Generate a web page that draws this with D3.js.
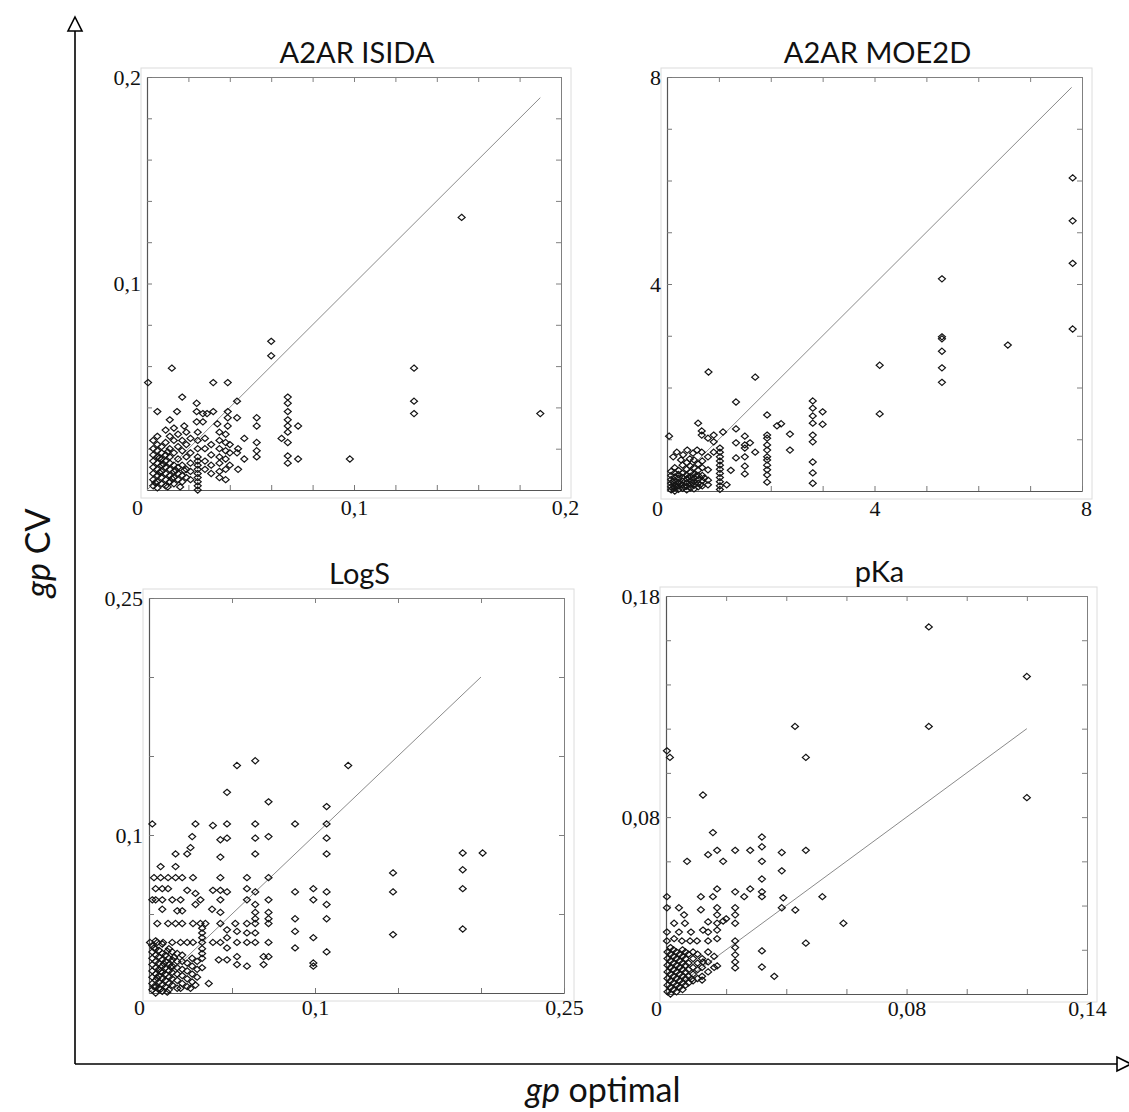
<!DOCTYPE html>
<html><head><meta charset="utf-8">
<script src="https://cdn.jsdelivr.net/npm/d3@7"></script>
<style>body{margin:0;background:#fff}svg{display:block;background:#fff}</style>
</head><body>
<svg id="chart" width="1129" height="1112"></svg>
<script>
// ---------------- DATA ----------------
const panelTitles = ["A2AR ISIDA", "A2AR MOE2D", "LogS", "pKa"];
const xAxisLabel = ["gp", " optimal"];
const yAxisLabel = ["gp", " CV"];

const isidaPoints = [
 [0.152,0.132],[0.19,0.037],[0.129,0.059],[0.129,0.043],[0.129,0.037],[0.098,0.015],[0.060,0.072],[0.060,0.065],
 [0.0005,0.052],[0.012,0.059],[0.032,0.052],[0.039,0.052],[0.017,0.045],[0.005,0.038],[0.0145,0.038],[0.024,0.042],
 [0.024,0.038],[0.027,0.037],[0.029,0.037],[0.032,0.038],[0.039,0.038],[0.0435,0.043],[0.011,0.034],[0.018,0.031],
 [0.024,0.033],[0.027,0.033],[0.034,0.032],[0.039,0.035],[0.039,0.031],[0.0435,0.035],[0.053,0.035],[0.053,0.031],
 [0.068,0.045],[0.068,0.042],[0.068,0.038],[0.068,0.034],[0.068,0.031],[0.068,0.028],[0.068,0.023],[0.068,0.0165],[0.068,0.013],
 [0.073,0.031],[0.073,0.015],[0.065,0.025],[0.053,0.023],[0.053,0.019],[0.053,0.016],[0.047,0.025],[0.047,0.015],[0.0435,0.018],
 [0.003,0.002],[0.003,0.005],[0.003,0.008],[0.003,0.011],[0.003,0.014],[0.003,0.017],[0.003,0.020],[0.003,0.024],
 [0.005,0.001],[0.005,0.004],[0.005,0.007],[0.005,0.010],[0.005,0.013],[0.005,0.016],[0.005,0.019],[0.005,0.022],[0.005,0.026],
 [0.007,0.003],[0.007,0.006],[0.007,0.009],[0.007,0.012],[0.007,0.015],[0.007,0.018],[0.007,0.021],
 [0.009,0.002],[0.009,0.005],[0.009,0.008],[0.009,0.011],[0.009,0.014],[0.009,0.017],[0.009,0.023],[0.009,0.029],
 [0.011,0.004],[0.011,0.007],[0.011,0.010],[0.011,0.013],[0.011,0.016],[0.011,0.020],[0.011,0.026],
 [0.013,0.003],[0.013,0.006],[0.013,0.009],[0.013,0.012],[0.013,0.018],[0.013,0.024],[0.013,0.030],
 [0.015,0.005],[0.015,0.008],[0.015,0.011],[0.015,0.015],[0.015,0.021],[0.015,0.027],
 [0.017,0.004],[0.017,0.007],[0.017,0.012],[0.017,0.019],[0.017,0.024],
 [0.019,0.006],[0.019,0.010],[0.019,0.016],[0.019,0.022],[0.019,0.028],
 [0.021,0.005],[0.021,0.009],[0.021,0.013],[0.021,0.018],[0.021,0.025],
 [0.0245,0.000],[0.0245,0.002],[0.0245,0.004],[0.0245,0.006],[0.0245,0.008],[0.0245,0.010],[0.0245,0.012],[0.0245,0.014],[0.0245,0.016],[0.0245,0.020],[0.0245,0.024],[0.0245,0.028],
 [0.028,0.010],[0.028,0.014],[0.028,0.020],[0.028,0.025],
 [0.031,0.008],[0.031,0.012],[0.031,0.017],[0.031,0.022],
 [0.035,0.006],[0.035,0.009],[0.035,0.013],[0.035,0.016],[0.035,0.020],[0.035,0.024],[0.035,0.028],
 [0.038,0.005],[0.038,0.010],[0.038,0.015],[0.038,0.019],[0.038,0.023],[0.038,0.027],
 [0.040,0.012],[0.040,0.018],[0.040,0.022],[0.044,0.010],[0.044,0.020],
 [0.004,0.0035],[0.006,0.0085],[0.008,0.0125],[0.010,0.0015],[0.012,0.0055],[0.014,0.0095],[0.016,0.0015],[0.018,0.0095],[0.010,0.0185],[0.006,0.0155]
];

const moePoints = [
 [7.82,6.05],[7.82,5.22],[7.82,4.4],[7.82,3.13],[5.3,4.1],[5.3,2.98],[5.3,2.94],[5.3,2.7],[5.3,2.38],[5.3,2.1],
 [6.57,2.82],[4.1,2.43],[4.1,1.49],
 [0.8,2.3],[1.7,2.2],[1.33,1.72],[0.6,1.31],[0.67,1.16],[0.67,1.08],[0.04,1.06],[1.93,1.47],[2.12,1.26],[2.2,1.3],[2.37,1.1],[2.37,0.79],
 [2.81,1.74],[2.81,1.6],[2.81,1.45],[2.81,1.31],[2.81,1.08],[2.81,0.95],[2.81,0.56],[2.81,0.35],[2.81,0.15],
 [3.0,1.53],[3.0,1.29],
 [1.93,1.08],[1.93,1.02],[1.93,0.89],[1.93,0.79],[1.93,0.66],[1.93,0.6],[1.93,0.5],[1.93,0.41],[1.93,0.31],[1.93,0.17],
 [1.33,1.2],[1.5,1.06],[1.5,0.89],[1.5,0.83],[1.5,0.66],[1.5,0.48],[1.5,0.33],[1.6,0.93],[1.7,0.75],[1.33,0.93],[1.33,0.64],[1.23,0.4],[1.08,1.14],
 [1.02,0.83],[1.02,0.75],[1.02,0.66],[1.02,0.58],[1.02,0.5],[1.02,0.42],[1.02,0.34],[1.02,0.26],[1.02,0.18],[1.02,0.1],[1.02,0.03],
 [1.15,0.12],[0.9,1.08],[0.9,0.95],[0.79,1.02],[0.79,0.66],[0.79,0.41],[0.79,0.21],[0.79,0.12],[0.9,0.75],[0.58,0.79],[0.39,0.79],[0.19,0.75],[0.12,0.66],
 [0.31,0.7],[0.5,0.73],[0.67,0.75],[0.27,0.6],[0.44,0.62],
 [0.08,0.02],[0.08,0.08],[0.08,0.15],[0.08,0.22],[0.08,0.3],[0.08,0.38],
 [0.15,0.0],[0.15,0.06],[0.15,0.12],[0.15,0.2],[0.15,0.27],[0.15,0.35],[0.15,0.45],
 [0.22,0.03],[0.22,0.1],[0.22,0.17],[0.22,0.25],[0.22,0.32],[0.22,0.4],
 [0.3,0.05],[0.3,0.12],[0.3,0.19],[0.3,0.26],[0.3,0.34],[0.3,0.5],
 [0.38,0.02],[0.38,0.09],[0.38,0.16],[0.38,0.23],[0.38,0.31],[0.38,0.42],[0.38,0.55],
 [0.45,0.06],[0.45,0.13],[0.45,0.2],[0.45,0.28],[0.45,0.36],[0.45,0.48],
 [0.52,0.04],[0.52,0.11],[0.52,0.18],[0.52,0.25],[0.52,0.33],[0.52,0.45],[0.52,0.6],
 [0.6,0.08],[0.6,0.15],[0.6,0.22],[0.6,0.3],[0.6,0.4],[0.6,0.52],
 [0.68,0.1],[0.68,0.2],[0.68,0.3],[0.68,0.45],[0.68,0.58],
 [0.11,0.05],[0.11,0.18],[0.19,0.09],[0.26,0.14],[0.34,0.08],[0.41,0.26],[0.49,0.16],[0.56,0.29],[0.64,0.12],[0.72,0.25]
];

const logsPoints = [
 [0.053,0.144],[0.064,0.147],[0.12,0.144],[0.047,0.127],[0.072,0.121],[0.107,0.118],
 [0.002,0.107],[0.028,0.107],[0.0385,0.106],[0.047,0.107],[0.064,0.107],[0.088,0.107],[0.107,0.107],
 [0.026,0.099],[0.043,0.097],[0.047,0.098],[0.064,0.098],[0.072,0.099],[0.107,0.098],
 [0.016,0.088],[0.023,0.088],[0.025,0.092],[0.043,0.086],[0.064,0.088],[0.107,0.088],
 [0.147,0.076],[0.147,0.064],[0.147,0.037],
 [0.189,0.0886],[0.189,0.078],[0.189,0.066],[0.189,0.0405],[0.201,0.0886],
 [0.007,0.08],[0.016,0.08],
 [0.003,0.073],[0.007,0.073],[0.0115,0.073],[0.016,0.073],[0.02,0.073],[0.0265,0.073],[0.043,0.073],[0.059,0.073],[0.072,0.073],
 [0.004,0.066],[0.008,0.066],[0.0115,0.066],[0.023,0.065],[0.028,0.063],[0.0385,0.065],[0.043,0.065],[0.047,0.064],[0.059,0.066],[0.064,0.064],[0.088,0.064],[0.099,0.066],[0.107,0.064],
 [0.002,0.059],[0.004,0.059],[0.008,0.059],[0.014,0.059],[0.019,0.059],[0.031,0.059],[0.043,0.059],[0.059,0.059],[0.072,0.059],[0.099,0.059],
 [0.028,0.056],[0.008,0.053],[0.017,0.052],[0.02,0.052],[0.038,0.053],[0.043,0.051],
 [0.064,0.056],[0.064,0.051],[0.064,0.047],[0.072,0.051],[0.072,0.047],[0.107,0.056],[0.107,0.047],[0.088,0.047],
 [0.005,0.044],[0.0115,0.044],[0.016,0.044],[0.02,0.044],[0.0265,0.044],[0.031,0.044],[0.034,0.044],[0.043,0.044],[0.052,0.044],[0.059,0.044],[0.064,0.044],[0.072,0.044],
 [0.053,0.039],[0.059,0.038],[0.064,0.038],[0.088,0.039],[0.099,0.035],
 [0.0006,0.032],[0.005,0.032],[0.0085,0.032],[0.014,0.032],[0.019,0.032],[0.023,0.032],[0.0265,0.032],[0.032,0.032],[0.0385,0.032],[0.043,0.032],[0.053,0.032],[0.059,0.032],[0.064,0.032],[0.072,0.032],
 [0.047,0.0285],[0.069,0.023],[0.072,0.023],[0.088,0.0285],[0.107,0.026],[0.053,0.023],[0.053,0.018],[0.059,0.017],[0.069,0.018],[0.099,0.019],[0.099,0.017],
 [0.032,0.022],[0.032,0.016],[0.042,0.021],[0.047,0.021],[0.036,0.006],[0.019,0.003],[0.025,0.003],[0.028,0.005],
 [0.032,0.025],[0.032,0.028],[0.032,0.035],[0.032,0.038],[0.032,0.041],[0.047,0.035],[0.047,0.04],
 [0.002,0.002],[0.002,0.006],[0.002,0.010],[0.002,0.014],[0.002,0.018],[0.002,0.022],[0.002,0.026],[0.002,0.030],
 [0.004,0.000],[0.004,0.004],[0.004,0.008],[0.004,0.012],[0.004,0.016],[0.004,0.020],[0.004,0.024],[0.004,0.028],[0.004,0.033],
 [0.006,0.003],[0.006,0.007],[0.006,0.011],[0.006,0.015],[0.006,0.019],[0.006,0.023],[0.006,0.027],
 [0.008,0.001],[0.008,0.005],[0.008,0.009],[0.008,0.013],[0.008,0.017],[0.008,0.021],[0.008,0.025],[0.008,0.031],
 [0.010,0.004],[0.010,0.008],[0.010,0.012],[0.010,0.016],[0.010,0.020],[0.010,0.024],
 [0.012,0.002],[0.012,0.006],[0.012,0.010],[0.012,0.014],[0.012,0.018],[0.012,0.022],[0.012,0.028],
 [0.014,0.005],[0.014,0.009],[0.014,0.013],[0.014,0.017],[0.014,0.021],[0.014,0.026],
 [0.017,0.003],[0.017,0.008],[0.017,0.012],[0.017,0.016],[0.017,0.020],[0.017,0.025],
 [0.020,0.006],[0.020,0.011],[0.020,0.015],[0.020,0.020],[0.020,0.024],
 [0.023,0.004],[0.023,0.009],[0.023,0.014],[0.023,0.019],
 [0.026,0.007],[0.026,0.012],[0.026,0.017],[0.026,0.022],
 [0.029,0.010],[0.029,0.015],[0.029,0.020],
 [0.003,0.004],[0.005,0.0095],[0.007,0.0135],[0.009,0.0185],[0.011,0.0005],[0.013,0.0165],[0.015,0.0225],[0.007,0.0025],[0.011,0.0265],[0.003,0.0285]
];

const pkaPoints = [
 [0.0874,0.166],[0.0874,0.121],[0.12,0.1436],[0.12,0.0888],[0.0429,0.121],[0.0465,0.107],[0.0003,0.11],[0.0013,0.107],
 [0.0123,0.09],[0.0156,0.073],[0.0319,0.071],[0.0319,0.0666],[0.014,0.063],[0.017,0.065],[0.023,0.065],[0.028,0.065],
 [0.0319,0.06],[0.0385,0.064],[0.0465,0.065],[0.007,0.06],[0.019,0.06],[0.0385,0.0557],[0.0319,0.052],
 [0.0003,0.044],[0.0116,0.044],[0.0156,0.044],[0.017,0.0475],[0.023,0.0462],[0.028,0.0475],[0.026,0.044],[0.0319,0.0462],[0.0319,0.044],[0.039,0.0435],[0.052,0.044],
 [0.0003,0.039],[0.0043,0.039],[0.006,0.0358],[0.0116,0.0381],[0.017,0.039],[0.017,0.0358],[0.023,0.039],[0.023,0.0358],[0.0385,0.039],[0.043,0.038],[0.059,0.032],
 [0.0027,0.032],[0.0063,0.032],[0.014,0.0326],[0.017,0.032],[0.019,0.033],[0.020,0.034],[0.023,0.032],
 [0.0003,0.028],[0.0043,0.028],[0.0083,0.028],[0.0123,0.0289],[0.014,0.028],[0.017,0.0289],
 [0.0003,0.024],[0.0027,0.025],[0.0053,0.024],[0.008,0.024],[0.0103,0.024],[0.014,0.024],[0.017,0.025],[0.023,0.024],
 [0.0465,0.023],[0.0319,0.0195],[0.023,0.021],[0.023,0.0177],[0.023,0.0145],[0.023,0.0118],[0.017,0.0127],[0.0319,0.0122],
 [0.036,0.008],[0.0123,0.0145],[0.014,0.0145],[0.012,0.0063],[0.0086,0.0068],
 [0.0005,0.001],[0.0005,0.004],[0.0005,0.007],[0.0005,0.010],[0.0005,0.013],[0.0005,0.016],[0.0005,0.019],
 [0.0015,0.000],[0.0015,0.003],[0.0015,0.006],[0.0015,0.009],[0.0015,0.012],[0.0015,0.015],[0.0015,0.018],[0.0015,0.021],
 [0.0025,0.002],[0.0025,0.005],[0.0025,0.008],[0.0025,0.011],[0.0025,0.014],[0.0025,0.017],[0.0025,0.020],
 [0.0035,0.001],[0.0035,0.004],[0.0035,0.007],[0.0035,0.010],[0.0035,0.013],[0.0035,0.016],[0.0035,0.019],
 [0.0045,0.003],[0.0045,0.006],[0.0045,0.009],[0.0045,0.012],[0.0045,0.015],[0.0045,0.018],
 [0.0055,0.002],[0.0055,0.005],[0.0055,0.008],[0.0055,0.011],[0.0055,0.014],[0.0055,0.017],[0.0055,0.020],
 [0.0065,0.004],[0.0065,0.007],[0.0065,0.010],[0.0065,0.013],[0.0065,0.016],[0.0065,0.019],
 [0.0075,0.005],[0.0075,0.008],[0.0075,0.011],[0.0075,0.014],[0.0075,0.018],
 [0.009,0.006],[0.009,0.009],[0.009,0.012],[0.009,0.016],[0.009,0.019],
 [0.0105,0.007],[0.0105,0.011],[0.0105,0.014],[0.0105,0.018],
 [0.012,0.008],[0.012,0.012],[0.012,0.016],[0.014,0.010],[0.014,0.019],[0.016,0.012],[0.016,0.017]
];

// axis maxima, diagonal extent
const xMaxima = [0.2, 8, 0.25, 0.14];
const yMaxima = [0.2, 8, 0.25, 0.18];
const diagonalEnds = [0.19, 7.8, 0.2, 0.12];

// tick values
const isidaTicks = [0,0.02,0.04,0.06,0.08,0.1,0.12,0.14,0.16,0.18,0.2];
const moeTicks = [0,1,2,3,4,5,6,7,8];
const logsTicks = [0,0.05,0.1,0.15,0.2,0.25];
const pkaXTicks = [0,0.02,0.04,0.06,0.08,0.1,0.12,0.14];
const pkaYTicks = [0,0.02,0.04,0.06,0.08,0.1,0.12,0.14,0.16,0.18];

// tick labels
const isidaXLabelVals = [0,0.1,0.2], isidaXLabels = ["0","0,1","0,2"];
const isidaYLabelVals = [0.1,0.2],   isidaYLabels = ["0,1","0,2"];
const moeXLabelVals = [0,4,8],       moeXLabels = ["0","4","8"];
const moeYLabelVals = [4,8],         moeYLabels = ["4","8"];
const logsXLabelVals = [0,0.1,0.25], logsXLabels = ["0","0,1","0,25"];
const logsYLabelVals = [0.1,0.25],   logsYLabels = ["0,1","0,25"];
const pkaXLabelVals = [0,0.08,0.14], pkaXLabels = ["0","0,08","0,14"];
const pkaYLabelVals = [0.08,0.18],   pkaYLabels = ["0,08","0,18"];

// ---------------- LAYOUT ----------------
const boxes = [
  {x0:147, x1:561, yb:490, yt:77},
  {x0:667, x1:1082, yb:491, yt:77},
  {x0:149, x1:564, yb:993, yt:598},
  {x0:666, x1:1087, yb:994, yt:596}
];

const panels = [
  {title:panelTitles[0], pts:isidaPoints, xT:isidaTicks, yT:isidaTicks, xLV:isidaXLabelVals, xL:isidaXLabels, yLV:isidaYLabelVals, yL:isidaYLabels},
  {title:panelTitles[1], pts:moePoints, xT:moeTicks, yT:moeTicks, xLV:moeXLabelVals, xL:moeXLabels, yLV:moeYLabelVals, yL:moeYLabels},
  {title:panelTitles[2], pts:logsPoints, xT:logsTicks, yT:logsTicks, xLV:logsXLabelVals, xL:logsXLabels, yLV:logsYLabelVals, yL:logsYLabels},
  {title:panelTitles[3], pts:pkaPoints, xT:pkaXTicks, yT:pkaYTicks, xLV:pkaXLabelVals, xL:pkaXLabels, yLV:pkaYLabelVals, yL:pkaYLabels}
];

const svg = d3.select("#chart");
svg.append("rect").attr("width",1129).attr("height",1112).attr("fill","#fff");

const tickFont = "'Liberation Serif', 'DejaVu Serif', serif";
const titleFont = "Lato, 'Open Sans', sans-serif";
const diamond = "M0,-3.1L3.5,0L0,3.1L-3.5,0Z";

panels.forEach((p, i) => {
  const b = boxes[i];
  const g = svg.append("g");
  const x = d3.scaleLinear().domain([0, xMaxima[i]]).range([b.x0, b.x1]);
  const y = d3.scaleLinear().domain([0, yMaxima[i]]).range([b.yb, b.yt]);

  // light outer frame
  g.append("rect").attr("x", b.x0 - 6).attr("y", b.yt - 9)
    .attr("width", b.x1 - b.x0 + 16).attr("height", b.yb - b.yt + 17)
    .attr("fill", "none").attr("stroke", "#dcdcdc").attr("stroke-width", 1);

  const fmtX = v => { const k = p.xLV.indexOf(v); return k >= 0 ? p.xL[k] : ""; };
  const fmtY = v => { const k = p.yLV.indexOf(v); return k >= 0 ? p.yL[k] : ""; };

  const top = g.append("g").attr("transform", `translate(0,${b.yt})`)
    .call(d3.axisTop(x).tickValues(p.xT).tickSizeInner(-5).tickSizeOuter(0).tickFormat(""));
  const right = g.append("g").attr("transform", `translate(${b.x1},0)`)
    .call(d3.axisRight(y).tickValues(p.yT).tickSizeInner(-5).tickSizeOuter(0).tickFormat(""));
  const bottom = g.append("g").attr("transform", `translate(0,${b.yb})`)
    .call(d3.axisBottom(x).tickValues(p.xT).tickSizeInner(-5).tickSizeOuter(0).tickPadding(i < 2 ? 9 : 6).tickFormat(fmtX));
  const left = g.append("g").attr("transform", `translate(${b.x0},0)`)
    .call(d3.axisLeft(y).tickValues(p.yT).tickSizeInner(-5).tickSizeOuter(0).tickPadding(6).tickFormat(fmtY));

  [top, right].forEach(a => {
    a.select(".domain").attr("stroke", "#808080").attr("stroke-width", 1);
    a.selectAll(".tick line").attr("stroke", "#808080");
  });
  [bottom, left].forEach(a => {
    a.select(".domain").attr("stroke", "#555").attr("stroke-width", 1.2);
    a.selectAll(".tick line").attr("stroke", "#777");
    a.selectAll(".tick text").attr("font-family", tickFont).attr("font-size", 22).attr("fill", "#111");
  });
  bottom.selectAll(".tick text").filter(d => d === 0).attr("dx", -10);
  bottom.selectAll(".tick text").filter(d => d === xMaxima[i]).attr("dx", i < 2 ? 4 : 0);
  left.selectAll(".tick").filter(d => d === 0).remove();

  // diagonal
  g.append("line")
    .attr("x1", x(0)).attr("y1", y(0))
    .attr("x2", x(diagonalEnds[i])).attr("y2", y(diagonalEnds[i]))
    .attr("stroke", "#8a8a8a").attr("stroke-width", 1);

  // points
  g.append("g").selectAll("path").data(p.pts).join("path")
    .attr("d", diamond)
    .attr("transform", d => `translate(${x(d[0])},${y(d[1])})`)
    .attr("fill", "none").attr("stroke", "#151515").attr("stroke-width", 1.2);

  // title
  g.append("text").attr("x", (b.x0 + b.x1) / 2 + 3).attr("y", b.yt - 14)
    .attr("text-anchor", "middle").attr("font-family", titleFont)
    .attr("font-size", 29).attr("fill", "#111").text(p.title);
});

// big outer axes
const axG = svg.append("g").attr("stroke", "#000").attr("stroke-width", 1.6).attr("fill", "none");
axG.append("line").attr("x1", 75).attr("y1", 1064).attr("x2", 75).attr("y2", 31);
axG.append("path").attr("d", "M75,17L82,31L68,31Z").attr("fill", "#fff");
axG.append("line").attr("x1", 75).attr("y1", 1064).attr("x2", 1117).attr("y2", 1064);
axG.append("path").attr("d", "M1131,1064L1117,1057L1117,1071Z").attr("fill", "#fff");

const xl = svg.append("text").attr("x", 603).attr("y", 1102).attr("text-anchor", "middle")
  .attr("font-family", titleFont).attr("font-size", 34).attr("fill", "#111");
xl.append("tspan").attr("font-style", "italic").text(xAxisLabel[0]);
xl.append("tspan").text(xAxisLabel[1]);

const yl = svg.append("text").attr("transform", "translate(50,553) rotate(-90)").attr("text-anchor", "middle")
  .attr("font-family", titleFont).attr("font-size", 34).attr("fill", "#111");
yl.append("tspan").attr("font-style", "italic").text(yAxisLabel[0]);
yl.append("tspan").text(yAxisLabel[1]);
</script>
</body></html>
